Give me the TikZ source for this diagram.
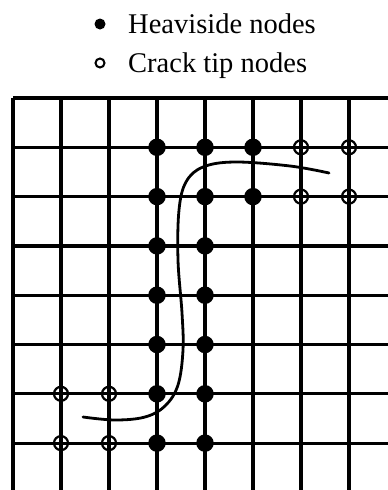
\documentclass[tikz,border=0pt]{standalone}
\usepackage{fontspec}
\setmainfont{Liberation Serif}
\begin{document}
\begin{tikzpicture}[x=1pt,y=-1pt,
  gridline/.style={line width=3.2pt},
  hnode/.style={circle,fill=black,inner sep=0pt,minimum size=17.5pt},
  tnode/.style={circle,draw=black,line width=2.2pt,inner sep=0pt,minimum size=14pt},
  crackline/.style={line width=2.8pt,line cap=round},
  legtext/.style={anchor=base west,inner sep=0pt,font=\fontsize{28.5}{34}\selectfont}]
\useasboundingbox (0,0) rectangle (388,490);
\fill[white] (0,0) rectangle (388,490);
% grid
\foreach \i in {0,...,7} {
  \draw[gridline] (13+48*\i,98) -- (13+48*\i,490);
}
\foreach \j in {0,...,7} {
  \draw[gridline] (13,98+49.3*\j) -- (388,98+49.3*\j);
}
% legend
\node[circle,fill=black,inner sep=0pt,minimum size=11pt] (lh) at (100,24) {};
\node[legtext] (lht) at (128,33) {Heaviside nodes};
\node[circle,draw=black,line width=2pt,inner sep=0pt,minimum size=9pt] (lt) at (100,63) {};
\node[legtext] (ltt) at (128,72) {Crack tip nodes};
% Heaviside nodes
\foreach \c/\r in {3/1,4/1,5/1,3/2,4/2,5/2,3/3,4/3,3/4,4/4,3/5,4/5,3/6,4/6,3/7,4/7} {
  \node[hnode] (h\c\r) at (13+48*\c,98+49.3*\r) {};
}
% crack tip nodes
\foreach \c/\r in {6/1,7/1,6/2,7/2,1/6,2/6,1/7,2/7} {
  \node[tnode] (t\c\r) at (13+48*\c,98+49.3*\r) {};
}
% crack
\draw[crackline] plot[smooth,tension=0.6] coordinates {(329,173) (290,166) (235,162) (203,167) (186,182) (179,210) (178,260) (182,313) (183,350) (178,385) (165,406) (145,417) (115,420) (83,417)};
\end{tikzpicture}
\end{document}
